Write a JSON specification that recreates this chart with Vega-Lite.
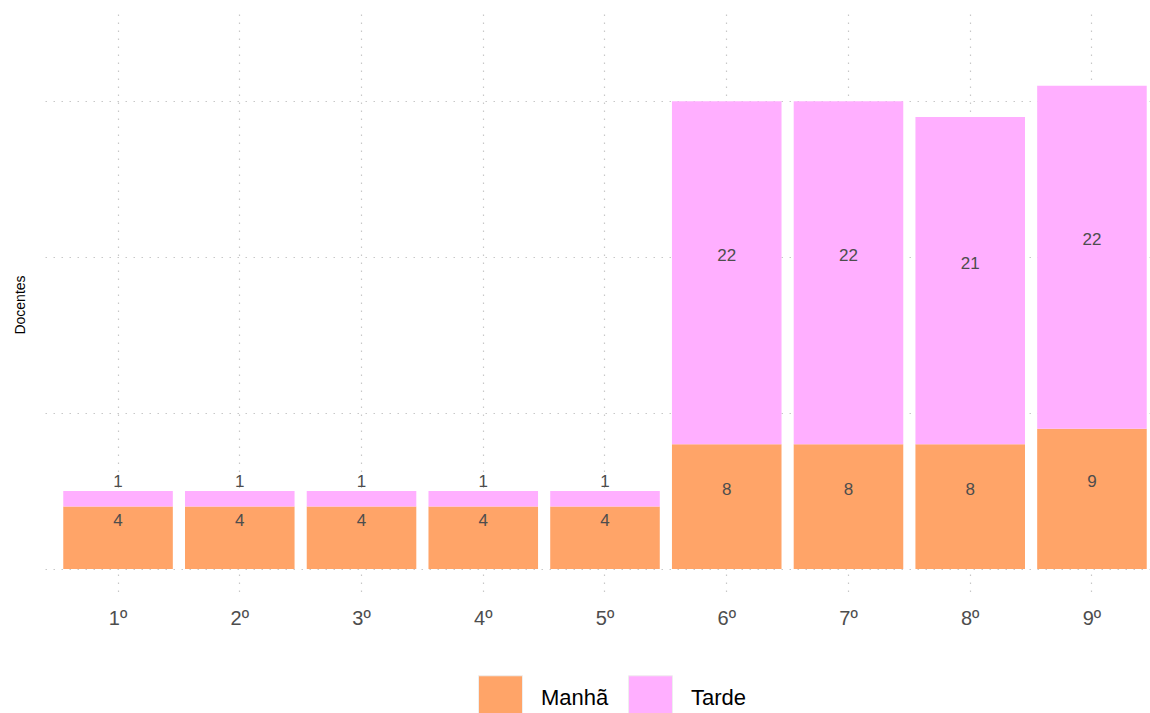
{
  "$schema": "https://vega.github.io/schema/vega-lite/v6.json",
  "autosize": {"type": "none"},
  "width": 1105,
  "height": 581,
  "padding": {"left": 45, "top": 14, "right": 0, "bottom": 118},
  "background": "white",
  "config": {
    "view": {"stroke": null},
    "font": "Liberation Sans",
    "axis": {"zindex": 1, "gridColor": "#c8c8c8", "gridDash": [1.5, 6.5], "gridWidth": 1.2, "domain": false, "ticks": false}
  },
  "data": {
    "values": [
      {"serie": "1º", "turno": "Manhã", "docentes": 4},
      {"serie": "2º", "turno": "Manhã", "docentes": 4},
      {"serie": "3º", "turno": "Manhã", "docentes": 4},
      {"serie": "4º", "turno": "Manhã", "docentes": 4},
      {"serie": "5º", "turno": "Manhã", "docentes": 4},
      {"serie": "6º", "turno": "Manhã", "docentes": 8},
      {"serie": "7º", "turno": "Manhã", "docentes": 8},
      {"serie": "8º", "turno": "Manhã", "docentes": 8},
      {"serie": "9º", "turno": "Manhã", "docentes": 9},
      {"serie": "1º", "turno": "Tarde", "docentes": 1},
      {"serie": "2º", "turno": "Tarde", "docentes": 1},
      {"serie": "3º", "turno": "Tarde", "docentes": 1},
      {"serie": "4º", "turno": "Tarde", "docentes": 1},
      {"serie": "5º", "turno": "Tarde", "docentes": 1},
      {"serie": "6º", "turno": "Tarde", "docentes": 22},
      {"serie": "7º", "turno": "Tarde", "docentes": 22},
      {"serie": "8º", "turno": "Tarde", "docentes": 21},
      {"serie": "9º", "turno": "Tarde", "docentes": 22}
    ]
  },
  "transform": [
    {"stack": "docentes", "groupby": ["serie"], "sort": [{"field": "turno", "order": "ascending"}], "as": ["v0", "v1"]}
  ],
  "encoding": {
    "x": {
      "field": "serie", "type": "nominal", "sort": null,
      "scale": {"range": [0, 1120], "paddingInner": 0.1, "paddingOuter": 0.15},
      "axis": {"title": null, "labelAngle": 0, "labelFontSize": 20, "labelColor": "#4d4d4d", "labelPadding": 13, "grid": true}
    }
  },
  "layer": [
    {
      "mark": {"type": "bar"},
      "encoding": {
        "y": {
          "field": "v0", "type": "quantitative",
          "scale": {"domain": [-1.67, 35.6], "nice": false, "zero": false},
          "axis": {"title": "Docentes", "titleFontSize": 14, "titleFontWeight": "normal", "titleColor": "#000000", "titlePadding": 18, "labels": false, "values": [0, 10, 20, 30], "grid": true}
        },
        "y2": {"field": "v1"},
        "color": {
          "field": "turno", "type": "nominal",
          "scale": {"domain": ["Manhã", "Tarde"], "range": ["#FFA468", "#FFAFFF"]},
          "legend": {
            "title": null, "orient": "none", "direction": "horizontal", "legendX": 433, "legendY": 661,
            "symbolType": "square", "symbolSize": 1936, "symbolStrokeColor": "#eeeeee", "symbolStrokeWidth": 1, "symbolOpacity": 1,
            "labelFontSize": 22, "labelColor": "#000000", "labelOffset": 18, "columnPadding": 17
          }
        }
      }
    },
    {
      "transform": [{"calculate": "(datum.v0 + datum.v1) / 2", "as": "meio"}],
      "mark": {"type": "text", "fontSize": 17, "color": "#4d4d4d", "dy": -17, "baseline": "middle"},
      "encoding": {
        "y": {"field": "meio", "type": "quantitative"},
        "text": {"field": "docentes", "type": "quantitative"}
      }
    }
  ]
}
